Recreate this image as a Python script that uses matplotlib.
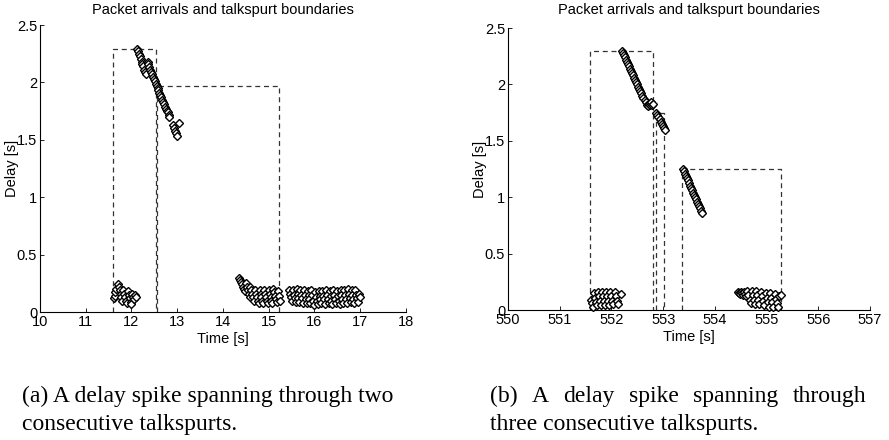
import matplotlib
matplotlib.use("Agg")
import matplotlib.pyplot as plt
from matplotlib.ticker import FixedLocator, FuncFormatter

# ---------------- data ----------------
title_text = "Packet arrivals and talkspurt boundaries"
xlabel_text = "Time [s]"
ylabel_text = "Delay [s]"

# (a) left panel: packet arrival time / delay
a_time = [
    11.61, 11.63, 11.65, 11.67, 11.70, 11.72, 11.74, 11.76, 11.78, 11.80,
    11.82, 11.84, 11.86, 11.88, 11.90, 11.92, 11.94, 11.96, 11.98, 12.00,
    12.02, 12.04, 12.06, 12.08, 12.10,
    12.12, 12.14, 12.16, 12.18, 12.20, 12.22, 12.24, 12.26, 12.28, 12.30, 12.32,
    12.35, 12.37, 12.39, 12.41, 12.43, 12.45, 12.47, 12.49, 12.51, 12.53,
    12.55, 12.57, 12.59, 12.61, 12.63, 12.65, 12.67, 12.69, 12.71, 12.73,
    12.75, 12.77, 12.79, 12.81, 12.83,
    12.91, 12.93, 12.95, 12.97, 12.99, 13.04,
    14.36, 14.38, 14.40, 14.42, 14.44, 14.46, 14.48,
    14.50, 14.52, 14.54, 14.56, 14.58,
    14.60, 14.62, 14.64, 14.66, 14.68,
    14.70, 14.72, 14.74, 14.76, 14.78,
    14.80, 14.82, 14.84, 14.86, 14.88,
    14.90, 14.92, 14.94, 14.96, 14.98,
    15.00, 15.02, 15.04, 15.06, 15.08,
    15.10, 15.12, 15.14, 15.16, 15.18,
    15.20, 15.22, 15.24,
    15.45, 15.47, 15.49, 15.51, 15.53, 15.55, 15.57, 15.59,
    15.61, 15.63, 15.65, 15.67, 15.69, 15.71, 15.73, 15.75,
    15.77, 15.79, 15.81, 15.83, 15.85, 15.87, 15.89, 15.91,
    15.93, 15.95, 15.97, 15.99, 16.01, 16.03, 16.05, 16.07,
    16.09, 16.11, 16.13, 16.15, 16.17, 16.19, 16.21, 16.23,
    16.25, 16.27, 16.29, 16.31, 16.33, 16.35, 16.37, 16.39,
    16.41, 16.43, 16.45, 16.47, 16.49, 16.51, 16.53, 16.55,
    16.57, 16.59, 16.61, 16.63, 16.65, 16.67, 16.69, 16.71,
    16.73, 16.75, 16.77, 16.79, 16.81, 16.83, 16.85, 16.87,
    16.89, 16.91, 16.93, 16.95, 16.97, 16.99,
]
a_delay = [
    0.12, 0.14, 0.17, 0.20, 0.24, 0.22, 0.19, 0.16, 0.13, 0.10,
    0.19, 0.16, 0.13, 0.10, 0.08, 0.18, 0.15, 0.12, 0.09, 0.07,
    0.16, 0.13, 0.11, 0.15, 0.13,
    2.29, 2.27, 2.25, 2.23, 2.20, 2.18, 2.16, 2.14, 2.11, 2.09, 2.07,
    2.18, 2.16, 2.13, 2.11, 2.09, 2.07, 2.05, 2.03, 2.01, 1.99,
    1.97, 1.95, 1.93, 1.91, 1.89, 1.87, 1.85, 1.83, 1.81, 1.79,
    1.77, 1.75, 1.74, 1.72, 1.70,
    1.63, 1.60, 1.58, 1.56, 1.53, 1.65,
    0.30, 0.28, 0.26, 0.24, 0.22, 0.20, 0.18,
    0.25, 0.22, 0.19, 0.16, 0.13,
    0.22, 0.19, 0.16, 0.13, 0.10,
    0.19, 0.16, 0.13, 0.10, 0.08,
    0.19, 0.16, 0.13, 0.10, 0.08,
    0.19, 0.16, 0.13, 0.10, 0.08,
    0.19, 0.16, 0.13, 0.10, 0.08,
    0.20, 0.17, 0.14, 0.11, 0.09,
    0.18, 0.14, 0.10,
    0.19, 0.16, 0.13, 0.10, 0.19, 0.15, 0.12, 0.09,
    0.20, 0.16, 0.12, 0.09, 0.19, 0.15, 0.12, 0.08,
    0.19, 0.15, 0.11, 0.08, 0.18, 0.15, 0.11, 0.08,
    0.19, 0.15, 0.10, 0.06, 0.17, 0.13, 0.10, 0.07,
    0.18, 0.14, 0.11, 0.08, 0.18, 0.14, 0.11, 0.07,
    0.19, 0.15, 0.11, 0.08, 0.18, 0.14, 0.10, 0.07,
    0.19, 0.15, 0.11, 0.08, 0.18, 0.14, 0.10, 0.07,
    0.19, 0.15, 0.11, 0.08, 0.19, 0.15, 0.11, 0.08,
    0.20, 0.16, 0.12, 0.09, 0.19, 0.15, 0.11, 0.08,
    0.19, 0.15, 0.12, 0.09, 0.16, 0.13,
]
# talkspurt boundaries (start, end, height) for panel (a)
a_ts_start = [11.60, 12.56]
a_ts_end = [12.53, 15.23]
a_ts_height = [2.29, 1.97]

# (b) right panel
b_time = [
    551.60, 551.62, 551.64,
    551.66, 551.68, 551.70, 551.72,
    551.74, 551.76, 551.78, 551.80,
    551.82, 551.84, 551.86, 551.88,
    551.90, 551.92, 551.94, 551.96,
    551.98, 552.00, 552.02, 552.04,
    552.06, 552.08, 552.10, 552.12,
    552.18,
    552.20, 552.22, 552.24, 552.26, 552.28, 552.30, 552.32, 552.34, 552.36,
    552.38, 552.40, 552.42, 552.44, 552.46, 552.48, 552.50, 552.52, 552.54,
    552.56, 552.58, 552.60, 552.62, 552.64, 552.66, 552.68,
    552.70, 552.72, 552.74, 552.76, 552.78, 552.80,
    552.87, 552.89, 552.91, 552.93, 552.95, 552.97, 552.99, 553.01, 553.03,
    553.38, 553.40, 553.42, 553.44, 553.46, 553.48, 553.50, 553.52, 553.54,
    553.56, 553.58, 553.60, 553.62, 553.64, 553.66, 553.68, 553.70, 553.72,
    553.74, 553.75,
    554.45, 554.47, 554.49, 554.51, 554.53, 554.55, 554.57, 554.59, 554.61,
    554.63, 554.65, 554.67, 554.69,
    554.71, 554.73, 554.75, 554.77,
    554.80, 554.82, 554.84, 554.86,
    554.89, 554.91, 554.93, 554.95,
    554.98, 555.00, 555.02, 555.04,
    555.07, 555.09, 555.11, 555.13,
    555.16, 555.18, 555.20, 555.22,
    555.25, 555.27,
]
b_delay = [
    0.09, 0.06, 0.03,
    0.15, 0.11, 0.07, 0.04,
    0.16, 0.12, 0.08, 0.04,
    0.16, 0.12, 0.08, 0.04,
    0.16, 0.12, 0.08, 0.04,
    0.16, 0.12, 0.08, 0.05,
    0.16, 0.12, 0.08, 0.05,
    0.14,
    2.30, 2.28, 2.26, 2.24, 2.22, 2.20, 2.18, 2.16, 2.14,
    2.12, 2.10, 2.08, 2.06, 2.04, 2.02, 2.00, 1.98, 1.96,
    1.94, 1.92, 1.90, 1.88, 1.86, 1.84, 1.82,
    1.81, 1.83, 1.82, 1.84, 1.82, 1.83,
    1.75, 1.73, 1.71, 1.69, 1.67, 1.65, 1.63, 1.61, 1.60,
    1.25, 1.23, 1.21, 1.19, 1.17, 1.15, 1.13, 1.10, 1.08,
    1.06, 1.04, 1.02, 1.00, 0.98, 0.96, 0.94, 0.92, 0.90,
    0.88, 0.86,
    0.16, 0.15, 0.14, 0.16, 0.15, 0.13, 0.16, 0.14, 0.12,
    0.17, 0.13, 0.09, 0.06,
    0.17, 0.13, 0.09, 0.05,
    0.17, 0.13, 0.09, 0.05,
    0.16, 0.12, 0.08, 0.04,
    0.15, 0.11, 0.07, 0.03,
    0.15, 0.11, 0.07, 0.03,
    0.14, 0.10, 0.06, 0.03,
    0.12, 0.13,
]
b_ts_start = [551.59, 552.86, 553.37]
b_ts_end = [552.81, 553.02, 555.28]
b_ts_height = [2.30, 1.75, 1.25]

a_xticks = [10, 11, 12, 13, 14, 15, 16, 17, 18]
b_xticks = [550, 551, 552, 553, 554, 555, 556, 557]
yticks = [0, 0.5, 1, 1.5, 2, 2.5]

caption_a = ["(a) A delay spike spanning through two", "consecutive talkspurts."]
caption_b = ["(b) A delay spike spanning through", "three consecutive talkspurts."]

# ---------------- figure ----------------
W, H = 889, 440
fig = plt.figure(figsize=(W / 100, H / 100), dpi=100)
fig.patch.set_facecolor("white")

SANS = "Liberation Sans"
SERIF = "Liberation Serif"
FS = 10.5


def px_rect(x0, x1, ytop, ybot):
    return [x0 / W, 1 - ybot / H, (x1 - x0) / W, (ybot - ytop) / H]


def setup(ax, xticks, xlim, title_pad):
    ax.set_xlim(xlim)
    ax.set_ylim(0, 2.5)
    for s in ("top", "right"):
        ax.spines[s].set_visible(False)
    for s in ("left", "bottom"):
        ax.spines[s].set_linewidth(0.8)
        ax.spines[s].set_color("black")
    ax.xaxis.set_major_locator(FixedLocator(xticks))
    ax.yaxis.set_major_locator(FixedLocator(yticks))
    ax.yaxis.set_major_formatter(FuncFormatter(lambda v, p: "%g" % v))
    ax.xaxis.set_major_formatter(FuncFormatter(lambda v, p: "%g" % v))
    ax.tick_params(direction="in", length=3, width=0.6, labelsize=FS, pad=2)
    for lab in ax.get_xticklabels() + ax.get_yticklabels():
        lab.set_fontfamily(SANS)
    ax.set_title(title_text, fontsize=FS, family=SANS, pad=title_pad)
    ax.set_xlabel(xlabel_text, fontsize=FS, family=SANS, labelpad=2)
    ax.set_ylabel(ylabel_text, fontsize=FS, family=SANS, labelpad=-1.5)


def draw_bounds(ax, starts, ends, heights):
    for s, e, h in zip(starts, ends, heights):
        ax.plot([s, s, e, e], [0, h, h, 0], color="0.2", lw=0.9,
                dashes=(4, 3), zorder=2, clip_on=False)


def draw_packets(ax, t, d):
    ax.plot(t, d, linestyle="none", marker="D", markersize=4.2,
            markerfacecolor="white", markeredgecolor="black",
            markeredgewidth=1.0, zorder=3, clip_on=False)


axA = fig.add_axes(px_rect(40, 406, 25, 312))
setup(axA, a_xticks, (10, 18), 8)
draw_bounds(axA, a_ts_start, a_ts_end, a_ts_height)
draw_packets(axA, a_time, a_delay)

axB = fig.add_axes(px_rect(508, 870, 28, 310))
setup(axB, b_xticks, (550, 557), 10)
draw_bounds(axB, b_ts_start, b_ts_end, b_ts_height)
draw_packets(axB, b_time, b_delay)

# ---------------- captions ----------------
renderer = fig.canvas.get_renderer()
CAP_SIZE = 17


def put_line(text, x0, ybase, justify_to=None):
    if justify_to is None:
        fig.text(x0 / W, 1 - ybase / H, text, fontsize=CAP_SIZE, family=SERIF,
                 ha="left", va="baseline")
        return
    words = text.split(" ")
    objs = [fig.text(0, 1 - ybase / H, w, fontsize=CAP_SIZE, family=SERIF,
                     ha="left", va="baseline") for w in words]
    widths = [o.get_window_extent(renderer).width for o in objs]
    gap = (justify_to - x0 - sum(widths)) / (len(words) - 1)
    x = x0
    for o, w in zip(objs, widths):
        o.set_x(x / W)
        x += w + gap


put_line(caption_a[0], 22, 402)
put_line(caption_a[1], 22, 430)
put_line(caption_b[0], 490, 402, justify_to=866)
put_line(caption_b[1], 490, 430)

fig.savefig("out.png", dpi=100)
